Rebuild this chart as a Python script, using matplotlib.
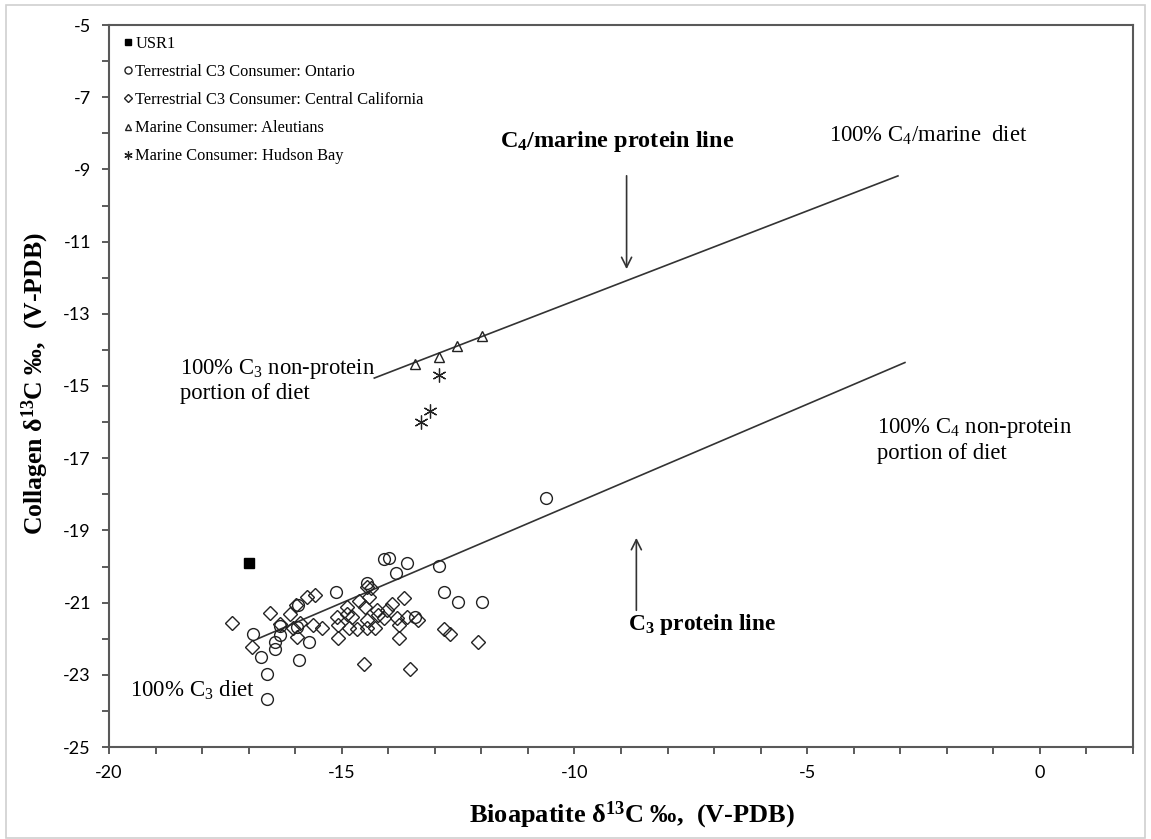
import numpy as np
import matplotlib.pyplot as plt
from matplotlib.patches import Rectangle

plt.rcParams['font.family'] = ['Liberation Serif', 'DejaVu Serif']
plt.rcParams['mathtext.fontset'] = 'custom'
plt.rcParams['mathtext.rm'] = 'Liberation Serif'
plt.rcParams['mathtext.it'] = 'Liberation Serif:italic'
plt.rcParams['mathtext.bf'] = 'Liberation Serif:bold'

# USR1
usr_x = [-17.0]
usr_y = [-19.9]

# Terrestrial C3 consumers, Ontario
ont_x = [-14.09, -13.98, -13.60, -12.92, -13.83, -14.46, -15.12, -12.81, -12.51, -11.99,
         -15.94, -13.42, -16.32, -16.32, -16.91, -16.43, -16.43, -15.71, -16.73, -15.91,
         -16.61, -16.61, -10.61, -15.96]
ont_y = [-19.79, -19.77, -19.89, -19.99, -20.19, -20.46, -20.70, -20.70, -20.98, -20.98,
         -21.07, -21.39, -21.65, -21.90, -21.88, -22.08, -22.29, -22.10, -22.50, -22.59,
         -22.99, -23.68, -18.09, -21.67]

# Terrestrial C3 consumers, Central California
cal_x = [-17.36, -16.54, -16.93, -16.32, -16.11, -15.99, -15.75, -15.57, -16.04, -15.96,
         -15.89, -15.61, -15.43, -15.10, -15.09, -15.08, -14.88, -14.88, -14.85, -14.78,
         -14.67, -14.62, -14.51, -14.46, -14.42, -14.46, -14.46, -14.37, -14.28, -14.24,
         -14.21, -14.10, -14.03, -13.92, -13.81, -13.78, -13.76, -13.67, -13.60, -13.53,
         -13.37, -12.81, -12.67, -12.07, -14.52]
cal_y = [-21.56, -21.30, -22.22, -21.59, -21.32, -21.07, -20.85, -20.79, -21.71, -21.94,
         -21.57, -21.62, -21.70, -21.41, -21.62, -21.97, -21.11, -21.32, -21.71, -21.41,
         -21.74, -20.96, -21.11, -20.56, -20.84, -21.48, -21.71, -20.60, -21.71, -21.20,
         -21.34, -21.43, -21.20, -21.05, -21.43, -21.62, -21.97, -20.88, -21.39, -22.85,
         -21.48, -21.73, -21.88, -22.08, -22.71]

# Marine consumers, Aleutians
ale_x = [-13.42, -12.92, -12.52, -11.98]
ale_y = [-14.39, -14.20, -13.89, -13.61]

# Marine consumers, Hudson Bay
hud_x = [-12.90, -13.10, -13.29]
hud_y = [-14.70, -15.69, -16.00]

# reference lines
c4_line_x = [-14.3, -3.05]
c4_line_y = [-14.78, -9.18]
c3_line_x = [-16.8, -2.9]
c3_line_y = [-22.0, -14.35]

fig = plt.figure(figsize=(11.51, 8.39), dpi=100)
ax = fig.add_axes([109/1151, 1-747/839, (1133-109)/1151, (747-25)/839])

ax.plot(c4_line_x, c4_line_y, color='#333333', lw=1.2)
ax.plot(c3_line_x, c3_line_y, color='#333333', lw=1.2)

kw = dict(linestyle='none', markerfacecolor='none', markeredgecolor='#222222', markeredgewidth=1.0)
h_usr, = ax.plot(usr_x, usr_y, 's', color='black', markersize=7, linestyle='none', label='USR1')
h_ont, = ax.plot(ont_x, ont_y, 'o', markersize=8.5, label='Terrestrial C3 Consumer: Ontario', **kw)
h_cal, = ax.plot(cal_x, cal_y, 'D', markersize=7.3, label='Terrestrial C3 Consumer: Central California', **kw)
h_ale, = ax.plot(ale_x, ale_y, '^', markersize=6.5, label='Marine Consumer: Aleutians', **kw)
h_hud, = ax.plot(hud_x, hud_y, marker=(6, 2, 0), markersize=10, linestyle='none',
                 color='#222222', markeredgewidth=0.9, label='Marine Consumer: Hudson Bay')

ax.set_xlim(-20, 2)
ax.set_ylim(-25, -5)

xt = np.arange(-20, 3, 1)
ax.set_xticks(xt)
ax.set_xticklabels([str(v) if v % 5 == 0 else '' for v in xt])
yt = np.arange(-25, -4, 1)
ax.set_yticks(yt)
ax.set_yticklabels([str(v) if v % 2 != 0 else '' for v in yt])
ax.tick_params(direction='out', length=5, width=1.2, color='#404040', labelsize=13, pad=8)
for lab in ax.get_xticklabels() + ax.get_yticklabels():
    lab.set_fontfamily('Lato')
for s in ax.spines.values():
    s.set_color('#595959')
    s.set_linewidth(1.5)

leg = ax.legend(handles=[h_usr, h_ont, h_cal, h_ale, h_hud], loc='upper left',
                bbox_to_anchor=(0.008, 0.994), frameon=False, fontsize=11.8,
                markerscale=0.6, handlelength=0.5, handletextpad=0.2,
                labelspacing=0.74, borderaxespad=0)

ax.text(-11.59, -8.24, r'C$_{\mathbf{4}}$/marine protein line', fontsize=17.5, fontweight='bold', va='center')
ax.text(-4.54, -8.05, r'100% C$_4$/marine  diet', fontsize=16.3, va='center')
ax.text(-18.47, -14.85, '100% C$_3$ non-protein\nportion of diet', fontsize=16.3, va='center', linespacing=1.15)
ax.text(-3.51, -16.5, '100% C$_4$ non-protein\nportion of diet', fontsize=16.3, va='center', linespacing=1.15)
ax.text(-8.86, -21.6, r'C$_{\mathbf{3}}$ protein line', fontsize=16.8, fontweight='bold', va='center')
ax.text(-19.55, -23.42, '100% C$_3$ diet', fontsize=16.5, va='center')

ax.annotate('', xy=(-8.88, -11.84), xytext=(-8.88, -9.10),
            arrowprops=dict(arrowstyle='->', color='#333333', lw=1.2, mutation_scale=18))
ax.annotate('', xy=(-8.67, -19.13), xytext=(-8.67, -21.29),
            arrowprops=dict(arrowstyle='->', color='#333333', lw=1.2, mutation_scale=18))

fig.text(632/1151, 1-815/839, r'Bioapatite δ$^{\mathbf{13}}$C ‰,  (V-PDB)', fontsize=19,
         fontweight='bold', ha='center', va='center')
fig.text(35/1151, 1-384/839, r'Collagen δ$^{\mathbf{13}}$C ‰,  (V-PDB)', fontsize=18.5,
         fontweight='bold', ha='center', va='center', rotation=90)

fig.patches.append(Rectangle((6/1151, 1/839), 1139/1151, 833/839, transform=fig.transFigure,
                             fill=False, edgecolor='#d0d0d0', lw=1.2))

fig.savefig('out.png', dpi=100)
